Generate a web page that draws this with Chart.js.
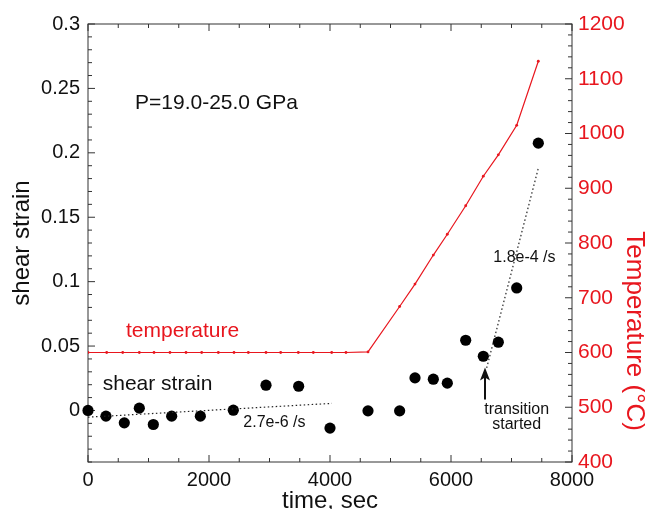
<!DOCTYPE html>
<html>
<head>
<meta charset="utf-8">
<script src="https://cdn.jsdelivr.net/npm/chart.js@4.4.1/dist/chart.umd.min.js"></script>
<style>
  html, body { margin: 0; padding: 0; background: #fff; }
  canvas { display: block; }
</style>
</head>
<body>
<canvas id="strainChart" width="645" height="509"></canvas>
<script>
// shear strain measurements (time in sec)
const strainTimes = [0, 297, 600, 848, 1080, 1383, 1857, 2402, 2942, 3482, 4000,
    4628, 5151, 5405, 5708, 5939, 6243, 6534, 6782, 7086, 7443];
const strainValues = [0, -0.0044, -0.0096, 0.0018, -0.0109, -0.0044, -0.0044, 0.0002, 0.0196, 0.0188, -0.0137,
    -0.0003, -0.0003, 0.0253, 0.0243, 0.0212, 0.0545, 0.0421, 0.053, 0.0951, 0.2075];

// temperature log (°C)
const tempTimes = [0, 309, 574, 848, 1091, 1355, 1620, 1879, 2154, 2413, 2650, 2942, 3185, 3476, 3724, 4028, 4264,
    4628, 5151, 5405, 5708, 5939, 6243, 6534, 6782, 7086, 7443];
const tempValues = [600, 600, 600, 600, 600, 600, 600, 600, 600, 600, 600, 600, 600, 600, 600, 600, 600,
    601, 684, 725, 778, 816, 868, 922, 961, 1015, 1132];

// strain rate fits
const slowFitTimes = [0, 4030];
const slowFitValues = [-0.0052, 0.0055];
const fastFitTimes = [6590, 7443];
const fastFitValues = [0.033, 0.188];

// tick labels
const timeTicks = [0, 2000, 4000, 6000, 8000];
const strainTicks = [0, 0.05, 0.1, 0.15, 0.2, 0.25, 0.3];
const tempTicks = [400, 500, 600, 700, 800, 900, 1000, 1100, 1200];

const RED = '#e8161e';
const INK = '#111';
const FONT = "'Liberation Sans', Arial, Helvetica, sans-serif";

Chart.defaults.font.family = FONT;

function points(xs, ys) {
    return xs.map((x, i) => ({ x: x, y: ys[i] }));
}

// frame box with inward major / minor ticks on all four sides
const frameTicks = {
    id: 'frameTicks',
    beforeDatasetsDraw(chart) {
        const { ctx, chartArea: a, scales } = chart;
        ctx.save();
        ctx.strokeStyle = '#333';
        ctx.lineWidth = 1;
        ctx.strokeRect(a.left, a.top, a.right - a.left, a.bottom - a.top);
        ctx.beginPath();
        for (let v = 0; v <= 8000; v += 500) {
            const px = scales.x.getPixelForValue(v);
            const len = v % 2000 === 0 ? 7 : 4;
            ctx.moveTo(px, a.bottom); ctx.lineTo(px, a.bottom - len);
            ctx.moveTo(px, a.top); ctx.lineTo(px, a.top + len);
        }
        for (let k = -4; k <= 30; k++) {
            const py = scales.y.getPixelForValue(k / 100);
            const len = k % 5 === 0 ? 7 : 4;
            ctx.moveTo(a.left, py); ctx.lineTo(a.left + len, py);
        }
        for (let v = 400; v <= 1200; v += 20) {
            const py = scales.y2.getPixelForValue(v);
            const len = v % 100 === 0 ? 7 : 4;
            ctx.moveTo(a.right, py); ctx.lineTo(a.right - len, py);
        }
        ctx.stroke();
        ctx.restore();
    }
};

// text notes, arrow and the right axis title
const notes = [
    { text: 'P=19.0-25.0 GPa', t: 777, s: 0.2388, size: 21, color: INK, align: 'left' },
    { text: 'temperature', t: 628, s: 0.0615, size: 21, color: RED, align: 'left' },
    { text: 'shear strain', t: 243, s: 0.0202, size: 21, color: INK, align: 'left' },
    { text: '2.7e-6 /s', t: 2567, s: -0.0093, size: 16, color: INK, align: 'left' },
    { text: '1.8e-4 /s', t: 6699, s: 0.1186, size: 16, color: INK, align: 'left' },
    { text: 'transition', t: 7086, s: 0.0008, size: 16, color: INK, align: 'center' },
    { text: 'started', t: 7086, s: -0.0109, size: 16, color: INK, align: 'center' }
];

const annotations = {
    id: 'annotations',
    afterDatasetsDraw(chart) {
        const { ctx, scales } = chart;
        ctx.save();
        ctx.textBaseline = 'middle';
        notes.forEach(n => {
            ctx.font = n.size + 'px ' + FONT;
            ctx.fillStyle = n.color;
            ctx.textAlign = n.align;
            ctx.fillText(n.text, scales.x.getPixelForValue(n.t), scales.y.getPixelForValue(n.s));
        });

        // arrow: transition started
        const ax = scales.x.getPixelForValue(6562);
        const y0 = scales.y.getPixelForValue(0.0085);
        const y1 = scales.y.getPixelForValue(0.0333);
        ctx.strokeStyle = INK;
        ctx.fillStyle = INK;
        ctx.lineWidth = 2;
        ctx.beginPath();
        ctx.moveTo(ax, y0);
        ctx.lineTo(ax, y1 + 8);
        ctx.stroke();
        ctx.beginPath();
        ctx.moveTo(ax, y1);
        ctx.lineTo(ax - 5, y1 + 13);
        ctx.lineTo(ax, y1 + 10);
        ctx.lineTo(ax + 5, y1 + 13);
        ctx.closePath();
        ctx.fill();

        // right axis title
        ctx.translate(634, scales.y2.getPixelForValue(639));
        ctx.rotate(Math.PI / 2);
        ctx.font = '26px ' + FONT;
        ctx.fillStyle = RED;
        ctx.textAlign = 'center';
        ctx.fillText('Temperature (°C)', 0, 0);
        ctx.restore();
    }
};

const ctx = document.getElementById('strainChart').getContext('2d');
const chart = new Chart(ctx, {
    type: 'scatter',
    data: {
        datasets: [
            {
                label: 'temperature',
                data: points(tempTimes, tempValues),
                yAxisID: 'y2',
                showLine: true,
                borderColor: RED,
                borderWidth: 1.2,
                pointRadius: 1.4,
                pointBorderWidth: 0,
                pointBackgroundColor: RED
            },
            {
                label: 'slow fit',
                data: points(slowFitTimes, slowFitValues),
                yAxisID: 'y',
                showLine: true,
                borderColor: '#222',
                borderWidth: 1.2,
                borderDash: [1.5, 2.5],
                pointRadius: 0
            },
            {
                label: 'fast fit',
                data: points(fastFitTimes, fastFitValues),
                yAxisID: 'y',
                showLine: true,
                borderColor: '#222',
                borderWidth: 1.2,
                borderDash: [1.5, 2.5],
                pointRadius: 0
            },
            {
                label: 'shear strain',
                data: points(strainTimes, strainValues),
                yAxisID: 'y',
                pointRadius: 5.6,
                pointBorderWidth: 0,
                pointBackgroundColor: '#000',
                clip: false
            }
        ]
    },
    options: {
        responsive: false,
        animation: false,
        layout: { padding: { top: 24, left: 0, right: 0, bottom: 0 } },
        plugins: {
            legend: { display: false },
            tooltip: { enabled: false }
        },
        scales: {
            x: {
                type: 'linear',
                position: 'bottom',
                min: 0,
                max: 8000,
                afterBuildTicks: s => { s.ticks = timeTicks.map(v => ({ value: v })); },
                afterFit: s => { s.height = 47; },
                grid: { display: false, drawTicks: false },
                border: { display: false },
                ticks: {
                    color: INK,
                    padding: 6,
                    maxRotation: 0,
                    font: { size: 20 },
                    callback: v => String(v)
                },
                title: {
                    display: true,
                    text: 'time, sec',
                    color: INK,
                    font: { size: 24, lineHeight: 0.6 },
                    padding: 0
                }
            },
            y: {
                type: 'linear',
                position: 'left',
                min: -0.04,
                max: 0.3,
                afterBuildTicks: s => { s.ticks = strainTicks.map(v => ({ value: v })); },
                afterFit: s => { s.width = 88; },
                grid: { display: false, drawTicks: false },
                border: { display: false },
                ticks: {
                    color: INK,
                    padding: 8,
                    font: { size: 20 },
                    callback: v => String(+v.toFixed(2))
                },
                title: {
                    display: true,
                    text: 'shear strain',
                    color: INK,
                    font: { size: 24 },
                    padding: { top: 8, bottom: 0 }
                }
            },
            y2: {
                type: 'linear',
                position: 'right',
                min: 400,
                max: 1200,
                afterBuildTicks: s => { s.ticks = tempTicks.map(v => ({ value: v })); },
                afterFit: s => { s.width = 73; },
                grid: { display: false, drawTicks: false },
                border: { display: false },
                ticks: {
                    color: RED,
                    padding: 6,
                    font: { size: 21 },
                    callback: v => String(v)
                }
            }
        }
    },
    plugins: [frameTicks, annotations]
});
</script>
</body>
</html>
